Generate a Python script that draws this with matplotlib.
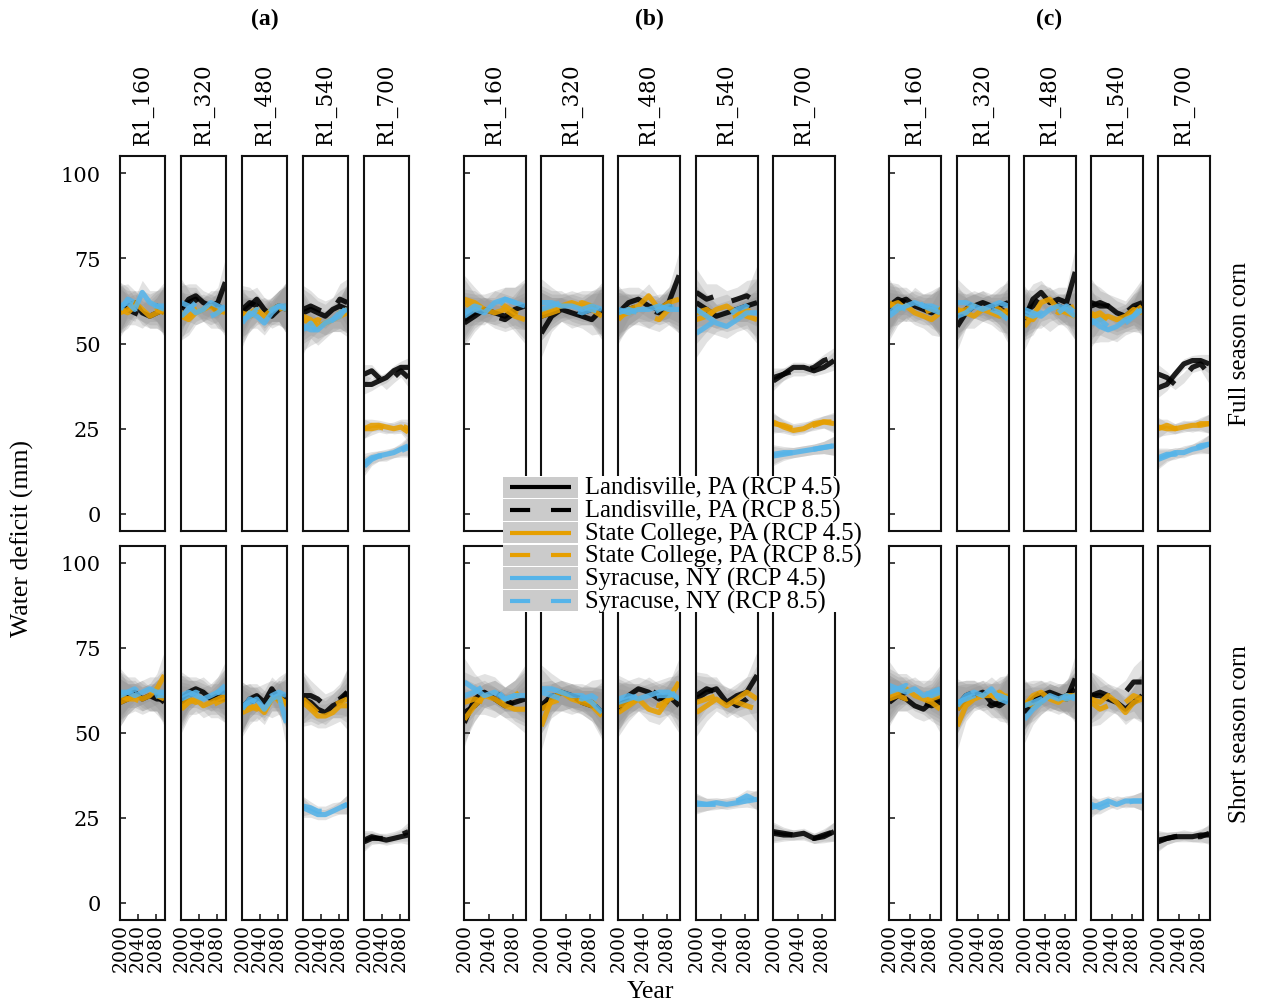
import matplotlib
matplotlib.use('Agg')
import matplotlib.pyplot as plt
from matplotlib.patches import Rectangle
import numpy as np

plt.rcParams['lines.scale_dashes'] = False

W, H = 1263, 1004

# ---------------- data ----------------
YEARS = [2000, 2017, 2033, 2050, 2067, 2083, 2100]
COLUMNS = ['R1_160', 'R1_320', 'R1_480', 'R1_540', 'R1_700']
GROUPS = ['(a)', '(b)', '(c)']
ROWS = ['Full season corn', 'Short season corn']
SERIES_LABELS = ['Landisville, PA (RCP 4.5)', 'Landisville, PA (RCP 8.5)',
                 'State College, PA (RCP 4.5)', 'State College, PA (RCP 8.5)',
                 'Syracuse, NY (RCP 4.5)', 'Syracuse, NY (RCP 8.5)']
SERIES_COLORS = ['#000000', '#000000', '#E69F00', '#E69F00', '#56B4E9', '#56B4E9']
SERIES_DASHED = [False, True, False, True, False, True]
YTICKS = [0, 25, 50, 75, 100]
XTICKS = [2000, 2040, 2080]
# half-width of the grey uncertainty band (mm) along the years
SE_MAIN = [7.0, 4.5, 3.5, 3.5, 3.5, 4.5, 7.0]
SE_LOW = [2.8, 1.8, 1.5, 1.5, 1.5, 1.8, 2.8]

# each: 5 columns x 6 series (L4.5, L8.5, S4.5, S8.5, Y4.5, Y8.5)
A_FULL = [
    [[60, 61, 62, 59, 58, 59, 60], [61, 60, 59, 58, 60, 61, 59],
     [59, 60, 62, 60, 58, 59, 60], [60, 59, 61, 60, 59, 60, 59],
     [61, 62, 60, 65, 62, 61, 60], [60, 63, 62, 62, 61, 61, 61]],
    [[60, 63, 64, 62, 61, 62, 68], [61, 62, 63, 60, 59, 61, 60],
     [58, 57, 59, 60, 61, 59, 60], [59, 58, 60, 61, 60, 60, 59],
     [62, 61, 59, 60, 62, 61, 60], [58, 60, 62, 60, 58, 59, 61]],
    [[59, 61, 63, 60, 58, 60, 61], [60, 62, 61, 59, 60, 61, 60],
     [58, 59, 60, 58, 60, 61, 60], [59, 58, 59, 60, 59, 60, 61],
     [56, 59, 58, 56, 59, 61, 60], [57, 58, 60, 57, 60, 61, 61]],
    [[59, 60, 59, 58, 60, 61, 60], [60, 61, 60, 59, 60, 63, 62],
     [58, 57, 55, 56, 57, 58, 59], [57, 56, 57, 56, 58, 59, 60],
     [55, 54, 54, 56, 57, 59, 60], [54, 56, 53, 55, 57, 58, 61]],
    [[38, 38, 39, 40, 42, 43, 43], [41, 42, 40, 38, 40, 42, 40],
     [25, 26, 26, 25.5, 25, 25.5, 24], [25, 25, 25.5, 25, 25.5, 26, 25],
     [14, 16, 17, 17.5, 18, 19, 20], [15, 16.5, 17, 17, 18, 18.5, 19.5]],
]
A_SHORT = [
    [[60, 61, 62, 60, 61, 60, 60], [59, 60, 61, 62, 60, 61, 59],
     [59, 60, 61, 60, 61, 63, 67], [61, 60, 60, 59, 60, 61, 60],
     [62, 62, 61, 62, 63, 62, 62], [61, 62, 63, 61, 60, 61, 61]],
    [[60, 62, 63, 62, 60, 61, 62], [59, 61, 62, 63, 61, 60, 60],
     [57, 59, 60, 58, 59, 60, 61], [58, 60, 59, 60, 58, 59, 60],
     [61, 62, 61, 60, 61, 62, 64], [60, 61, 62, 61, 60, 62, 62]],
    [[57, 60, 61, 59, 63, 60, 61], [58, 59, 60, 61, 62, 60, 59],
     [56, 57, 58, 56, 60, 61, 58], [57, 58, 57, 59, 58, 60, 59],
     [58, 59, 60, 57, 60, 61, 53], [57, 60, 59, 58, 61, 62, 61]],
    [[60, 59, 57, 56, 58, 59, 62], [61, 61, 60, 58, 59, 60, 62],
     [59, 57, 55, 55, 56, 58, 58], [60, 58, 56, 57, 58, 59, 60],
     [28, 27, 26, 26, 27, 28, 29], [28.5, 28, 27, 27, 28, 28, 29]],
    [[18, 19, 19, 18.5, 19, 19.5, 20], [18.5, 19.5, 19, 19, 19.5, 20, 21],
     None, None, None, None],
]
B_FULL = [
    [[56, 58, 60, 59, 58, 60, 61], [57, 59, 60, 58, 57, 59, 61],
     [63, 62, 60, 59, 60, 58, 57], [62, 60, 61, 62, 61, 59, 58],
     [58, 60, 59, 62, 63, 62, 61], [59, 61, 60, 60, 63, 62, 62]],
    [[53, 58, 60, 59, 58, 57, 60], [58, 59, 60, 58, 59, 60, 61],
     [59, 60, 61, 62, 61, 60, 58], [58, 59, 60, 61, 62, 61, 59],
     [62, 62, 61, 61, 60, 61, 60], [60, 61, 62, 60, 59, 60, 59]],
    [[59, 62, 63, 61, 60, 62, 70], [58, 60, 61, 60, 59, 61, 62],
     [57, 60, 61, 64, 60, 62, 63], [58, 59, 60, 58, 57, 60, 61],
     [60, 59, 60, 60, 61, 60, 60], [59, 60, 59, 58, 60, 61, 60]],
    [[62, 60, 58, 59, 60, 61, 62], [65, 63, 64, 62, 63, 64, 62],
     [57, 58, 60, 61, 59, 58, 57], [59, 60, 58, 57, 58, 60, 58],
     [60, 58, 56, 55, 57, 59, 59], [53, 55, 57, 58, 60, 61, 66]],
    [[40, 41, 43, 43, 42, 43, 45], [39, 41, 42, 42, 43, 45, 46],
     [27, 25.5, 24.5, 25, 26.5, 27, 26.5], [26.5, 26, 25, 25.5, 26, 27, 27],
     [17, 17.5, 18, 18.5, 19, 19.5, 20], [17.5, 18, 18, 18.5, 19, 19.5, 20]],
]
B_SHORT = [
    [[53, 60, 62, 60, 58, 59, 60], [56, 58, 61, 62, 60, 58, 59],
     [54, 58, 61, 60, 58, 57, 57], [59, 60, 59, 58, 60, 61, 63],
     [65, 63, 61, 62, 60, 61, 61], [61, 62, 64, 63, 60, 61, 62]],
    [[57, 60, 62, 61, 60, 59, 56], [58, 61, 60, 61, 59, 58, 58],
     [52, 60, 62, 60, 59, 58, 55], [57, 59, 60, 59, 60, 59, 57],
     [63, 63, 62, 61, 61, 59, 56], [62, 61, 60, 61, 60, 61, 59]],
    [[57, 61, 63, 62, 60, 61, 58], [58, 60, 61, 63, 61, 59, 57],
     [56, 58, 60, 57, 56, 60, 65], [58, 59, 60, 59, 58, 60, 61],
     [60, 61, 60, 61, 62, 62, 60], [59, 60, 61, 60, 61, 61, 62]],
    [[60, 62, 63, 59, 61, 62, 67], [61, 63, 62, 60, 58, 60, 63],
     [56, 58, 60, 58, 60, 62, 60], [59, 60, 61, 60, 59, 58, 57],
     [29, 29, 29.5, 29, 29.5, 30, 30.5], [29.5, 29, 29, 29.5, 30, 31.5, 30]],
    [[20.5, 20, 20, 20.5, 19, 19.5, 21], [21, 20.5, 20, 20, 19, 20, 21],
     None, None, None, None],
]
C_FULL = [
    [[60, 62, 63, 61, 60, 59, 60], [61, 63, 62, 60, 61, 60, 59],
     [62, 60, 61, 59, 58, 57, 59], [61, 62, 60, 60, 59, 60, 60],
     [58, 60, 61, 62, 61, 60, 59], [59, 61, 60, 63, 61, 61, 60]],
    [[55, 59, 61, 62, 61, 60, 59], [58, 60, 62, 61, 60, 61, 62],
     [60, 59, 58, 60, 59, 58, 60], [59, 60, 61, 60, 61, 60, 58],
     [62, 62, 61, 60, 61, 62, 61], [58, 59, 61, 62, 60, 59, 57]],
    [[57, 63, 65, 62, 63, 62, 71], [59, 61, 64, 63, 61, 60, 62],
     [55, 58, 62, 63, 60, 59, 58], [58, 57, 60, 61, 59, 60, 61],
     [60, 59, 58, 60, 61, 60, 58], [59, 58, 59, 57, 59, 61, 59]],
    [[62, 61, 61, 59, 58, 60, 61], [61, 62, 61, 60, 59, 61, 62],
     [59, 57, 58, 57, 58, 60, 59], [58, 59, 57, 56, 57, 59, 61],
     [57, 55, 54, 55, 57, 58, 60], [56, 57, 55, 54, 56, 58, 61]],
    [[37, 38, 41, 44, 45, 45, 44], [41, 40, 38, 40, 43, 44, 41],
     [25, 26, 25, 25.5, 26, 26, 26.5], [25.5, 25, 25, 26, 25.5, 26.5, 26.5],
     [16, 17, 18, 18, 19, 19.5, 20.5], [16.5, 17.5, 17.5, 18.5, 19, 20, 20.5]],
]
C_SHORT = [
    [[59, 61, 60, 58, 57, 59, 60], [60, 61, 62, 60, 59, 58, 59],
     [61, 62, 63, 61, 60, 59, 57], [60, 61, 60, 61, 60, 60, 61],
     [64, 63, 62, 63, 61, 62, 63], [62, 63, 64, 62, 62, 61, 62]],
    [[57, 60, 61, 62, 59, 58, 60], [58, 61, 62, 60, 58, 59, 61],
     [52, 58, 60, 61, 61, 60, 61], [57, 59, 61, 60, 61, 62, 60],
     [58, 61, 62, 61, 63, 60, 59], [59, 60, 61, 62, 61, 61, 60]],
    [[56, 59, 61, 62, 61, 60, 66], [58, 60, 62, 61, 60, 61, 63],
     [58, 61, 62, 60, 59, 61, 61], [59, 58, 59, 61, 60, 60, 61],
     [54, 57, 59, 61, 60, 61, 60], [58, 59, 60, 60, 61, 60, 61]],
    [[61, 61, 60, 59, 57, 59, 61], [61, 62, 61, 60, 62, 65, 65],
     [60, 59, 61, 59, 56, 59, 60], [59, 57, 58, 60, 59, 61, 60],
     [28, 29, 30, 29, 30, 30, 30], [29, 28, 29, 30, 29.5, 30, 30]],
    [[18, 19, 19.5, 19.5, 19.5, 20, 20], [18.5, 19, 19.5, 20, 19.5, 19.5, 20.5],
     None, None, None, None],
]
DATA = [[A_FULL, A_SHORT], [B_FULL, B_SHORT], [C_FULL, C_SHORT]]

# ---------------- layout (pixels) ----------------
PANEL_LEFTS = [[120, 181, 242, 303, 364],
               [464, 541, 618, 696, 773],
               [889, 957, 1024, 1091, 1158]]
PANEL_WIDTHS = [45, 62, 52]
ROW_TOPS = [157, 547]
ROW_BOTTOMS = [532, 921]

SERIF = ['Liberation Serif', 'DejaVu Serif']
WIDE = ['DejaVu Serif']

fig = plt.figure(figsize=(W / 100, H / 100), dpi=100)


def rect(left, top, width, height):
    return [left / W, 1 - (top + height) / H, width / W, height / H]


for g in range(3):
    for r in range(2):
        for c in range(5):
            left = PANEL_LEFTS[g][c]
            wpx = PANEL_WIDTHS[g]
            top = ROW_TOPS[r]
            hpx = ROW_BOTTOMS[r] - top
            ax = fig.add_axes(rect(left, top, wpx, hpx))
            series = DATA[g][r][c]
            for s, vals in enumerate(series):
                if vals is None:
                    continue
                v = np.array(vals, dtype=float)
                se = np.array(SE_LOW if v.mean() < 45 else SE_MAIN)
                ax.fill_between(YEARS, v - se, v + se, color='#8f8f8f',
                                alpha=0.26, lw=0, zorder=1)
                kw = dict(color=SERIES_COLORS[s], lw=3.7, alpha=0.88,
                          solid_capstyle='butt', dash_capstyle='butt', zorder=2)
                if SERIES_DASHED[s]:
                    ax.plot(YEARS, v, dashes=(14, 15), **kw)
                else:
                    ax.plot(YEARS, v, **kw)
            ax.set_xlim(1999.5, 2101.5)
            ax.set_ylim(-5, 105)
            for sp in ax.spines.values():
                sp.set_linewidth(1.5)
                sp.set_color('#111111')
            ax.tick_params(direction='in', length=4.5, width=1.3,
                           color='#333333')
            # y ticks
            if c == 0:
                ax.set_yticks(YTICKS)
                if g == 0:
                    ax.set_yticklabels([str(t) for t in YTICKS],
                                       fontfamily=WIDE, fontsize=15)
                    ax.tick_params(axis='y', pad=14)
                else:
                    ax.set_yticklabels([])
            else:
                ax.set_yticks([])
            # x ticks
            if r == 1:
                ax.set_xticks(XTICKS)
                ax.set_xticklabels([str(t) for t in XTICKS], rotation=90,
                                   fontfamily=WIDE, fontsize=13.5)
                ax.tick_params(axis='x', pad=2)
            else:
                ax.set_xticks([])
            # column strip labels
            if r == 0:
                fig.text((left + wpx / 2) / W, 1 - 145 / H, COLUMNS[c],
                         rotation=90, ha='center', va='bottom',
                         fontfamily=WIDE, fontsize=15.5)
    # group titles
    gl = PANEL_LEFTS[g][0]
    gr = PANEL_LEFTS[g][4] + PANEL_WIDTHS[g]
    fig.text((gl + gr) / 2 / W, 1 - 19 / H, GROUPS[g], ha='center',
             va='center', fontfamily=SERIF, fontsize=17, fontweight='bold')

# row strip labels
for r in range(2):
    yc = (ROW_TOPS[r] + ROW_BOTTOMS[r]) / 2
    fig.text(1240 / W, 1 - yc / H, ROWS[r], rotation=90, ha='center',
             va='center', fontfamily=SERIF, fontsize=18)

# axis titles
fig.text(22 / W, 1 - 539 / H, 'Water deficit (mm)', rotation=90,
         ha='center', va='center', fontfamily=SERIF, fontsize=18.5)
fig.text(650 / W, 1 - 992 / H, 'Year', ha='center', va='center',
         fontfamily=SERIF, fontsize=18.5)

# legend
LEG_L, LEG_T, LEG_W, LEG_H = 503, 477, 359, 136
lax = fig.add_axes(rect(LEG_L, LEG_T, LEG_W, LEG_H))
lax.set_xlim(0, LEG_W)
lax.set_ylim(LEG_H, 0)
lax.set_xticks([])
lax.set_yticks([])
for sp in lax.spines.values():
    sp.set_visible(False)
lax.set_facecolor('white')
rowh = LEG_H / 6
for i in range(6):
    y0 = i * rowh
    lax.add_patch(Rectangle((0, y0 + 0.8), 75, rowh - 1.6,
                            facecolor='#cbcbcb', edgecolor='none'))
    kw = dict(color=SERIES_COLORS[i], lw=3.0, solid_capstyle='butt',
              dash_capstyle='butt')
    if SERIES_DASHED[i]:
        lax.plot([7, 68], [y0 + rowh / 2] * 2, dashes=(14.5, 15), **kw)
    else:
        lax.plot([7, 68], [y0 + rowh / 2] * 2, **kw)
    lax.text(82, y0 + rowh / 2 + 0.5, SERIES_LABELS[i], ha='left',
             va='center', fontfamily=SERIF, fontsize=17.7)

fig.savefig('out.png', dpi=100)
